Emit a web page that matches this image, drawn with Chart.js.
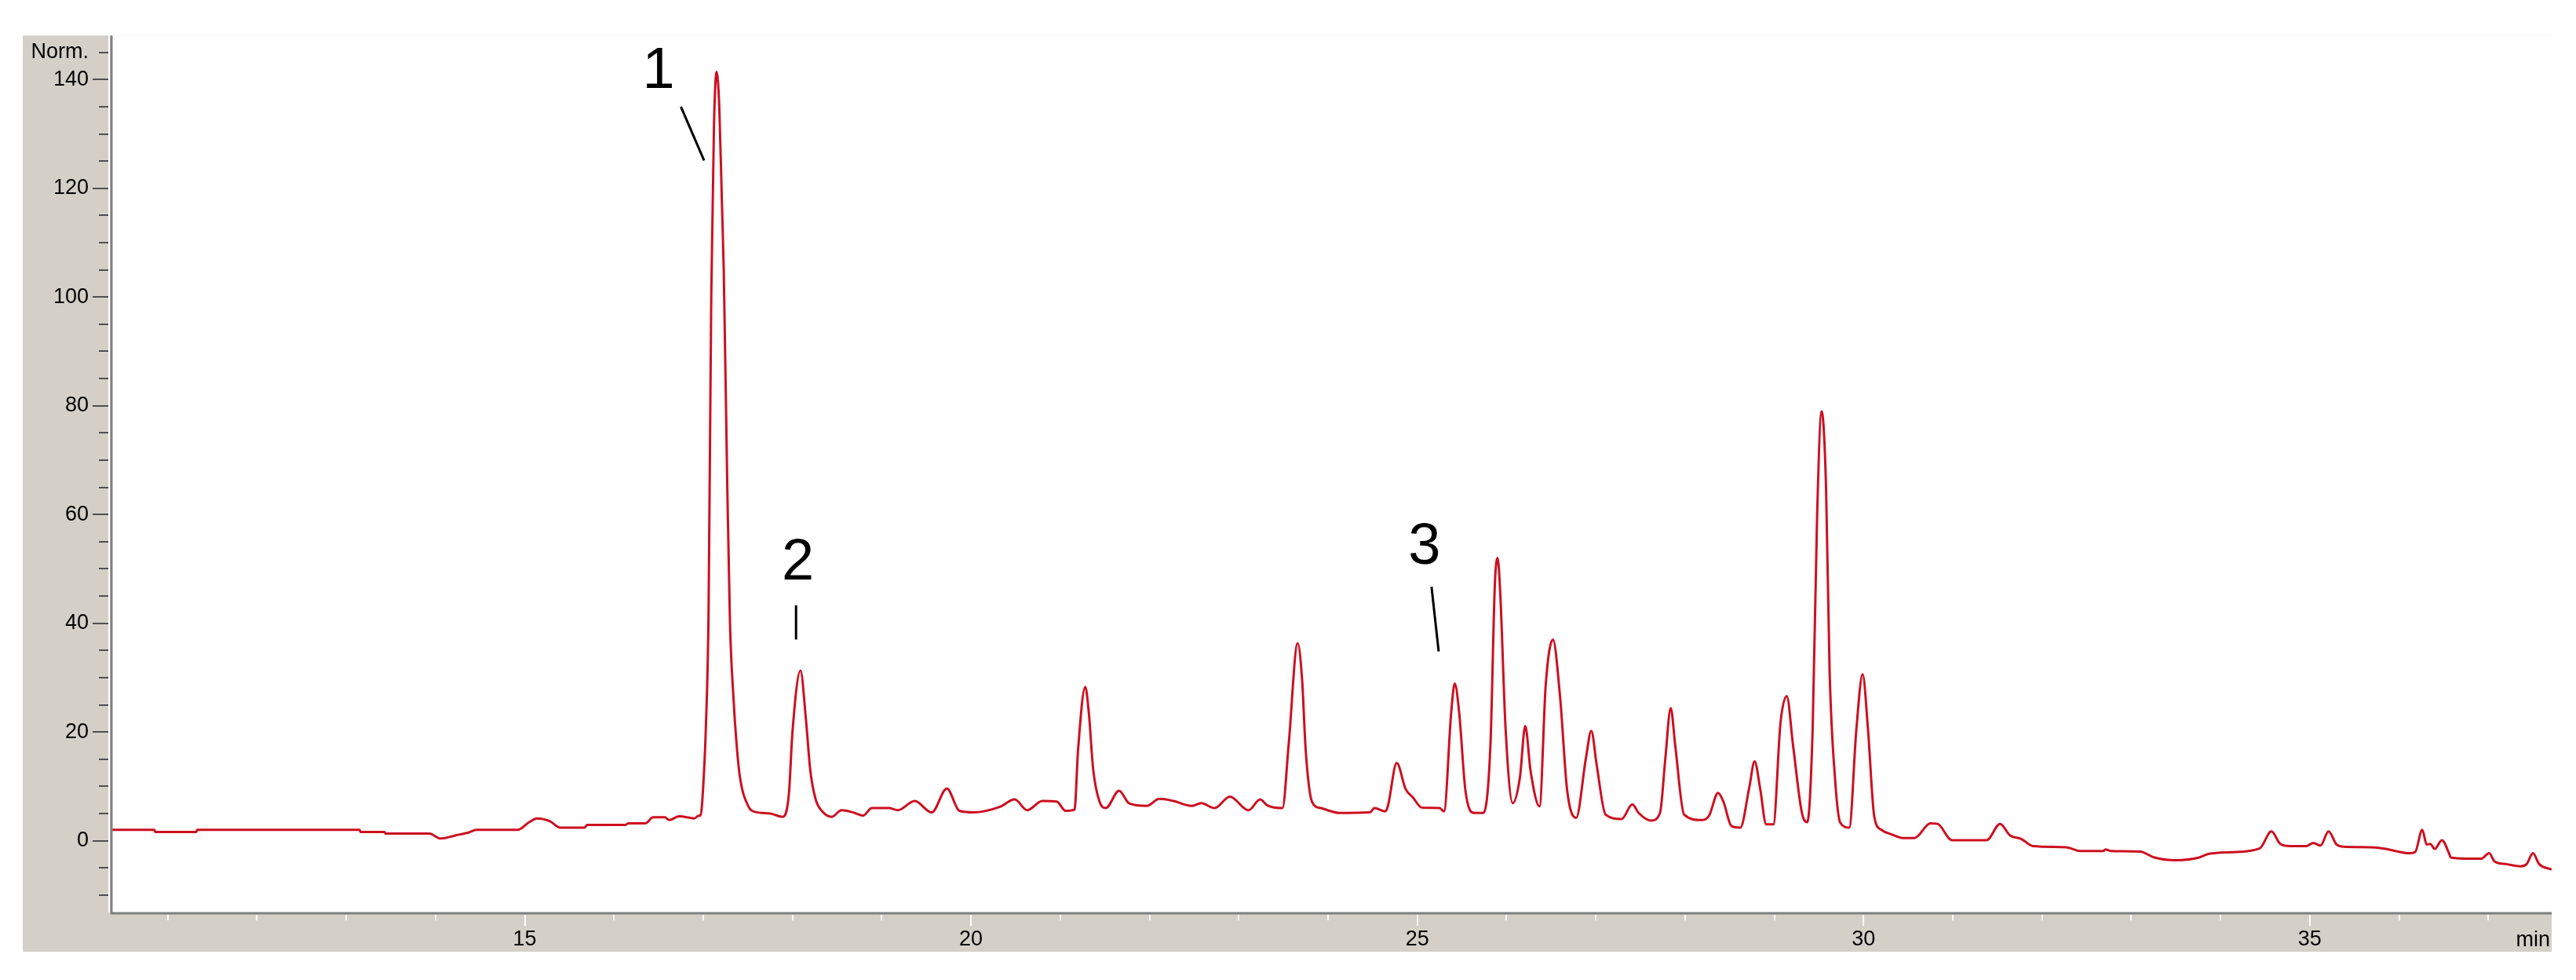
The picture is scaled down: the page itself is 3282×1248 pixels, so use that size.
<!DOCTYPE html>
<html>
<head>
<meta charset="utf-8">
<script src="https://cdn.jsdelivr.net/npm/chart.js@4"></script>
<style>
    html, body { margin: 0; padding: 0; background: #ffffff; }
    #wrap { width: 3282px; height: 1248px; }
</style>
</head>
<body>
<div id="wrap"><canvas id="chromChart" width="3282" height="1248"></canvas></div>
<script>
// retention time (min) and detector signal (Norm.)
var retentionTimes = [
    10.37, 10.85, 10.86, 11.32, 11.33, 13.15, 13.16, 13.43, 13.44, 13.93,
    14.06, 14.23, 14.37, 14.46, 14.92, 15.05, 15.14, 15.28, 15.40, 15.67,
    15.70, 16.13, 16.16, 16.35, 16.44, 16.57, 16.62, 16.73, 16.90, 16.95,
    16.97, 17.00, 17.03, 17.06, 17.09, 17.12, 17.15, 17.18, 17.21, 17.23,
    17.27, 17.30, 17.34, 17.37, 17.41, 17.51, 17.58, 17.75, 17.89, 17.96,
    18.00, 18.09, 18.15, 18.20, 18.26, 18.34, 18.44, 18.55, 18.68, 18.79,
    18.89, 19.08, 19.18, 19.37, 19.56, 19.73, 19.87, 20.03, 20.32, 20.49,
    20.63, 20.80, 20.96, 21.06, 21.16, 21.20, 21.28, 21.32, 21.37, 21.44,
    21.51, 21.66, 21.77, 21.97, 22.11, 22.27, 22.47, 22.58, 22.73, 22.90,
    23.11, 23.24, 23.32, 23.49, 23.56, 23.66, 23.71, 23.75, 23.82, 23.92,
    24.13, 24.47, 24.52, 24.64, 24.67, 24.77, 24.87, 24.95, 25.05, 25.25,
    25.30, 25.38, 25.42, 25.47, 25.54, 25.64, 25.74, 25.82, 25.87, 25.90,
    25.93, 25.99, 26.07, 26.15, 26.21, 26.27, 26.37, 26.44, 26.52, 26.60,
    26.68, 26.78, 26.89, 26.95, 27.01, 27.11, 27.29, 27.41, 27.48, 27.62,
    27.72, 27.78, 27.84, 27.89, 27.99, 28.19, 28.27, 28.37, 28.43, 28.52,
    28.62, 28.72, 28.78, 28.84, 28.91, 28.99, 29.07, 29.14, 29.21, 29.31,
    29.37, 29.43, 29.48, 29.53, 29.58, 29.62, 29.68, 29.74, 29.84, 29.92,
    29.99, 30.05, 30.12, 30.20, 30.31, 30.44, 30.57, 30.75, 30.83, 30.99,
    31.38, 31.53, 31.64, 31.77, 31.90, 32.27, 32.43, 32.69, 32.71, 32.77,
    33.10, 33.26, 33.50, 33.76, 33.87, 34.13, 34.44, 34.57, 34.67, 34.78,
    34.96, 35.04, 35.12, 35.21, 35.30, 35.38, 35.69, 35.85, 35.96, 36.11,
    36.18, 36.26, 36.31, 36.35, 36.40, 36.48, 36.56, 36.58, 36.74, 36.92,
    37.01, 37.07, 37.20, 37.36, 37.43, 37.50, 37.57, 37.71
];
var signal = [
    2.0, 2.0, 1.6, 1.6, 2.0, 2.0, 1.6, 1.6, 1.3, 1.3,
    0.4, 1.0, 1.5, 2.0, 2.0, 3.4, 4.1, 3.6, 2.4, 2.4,
    2.9, 2.9, 3.2, 3.2, 4.3, 4.3, 3.8, 4.5, 4.1, 4.6,
    4.6, 10.0, 21.0, 42.0, 100.0, 131.0, 141.4, 135.0, 117.0, 105.0,
    65.0, 40.0, 26.0, 18.6, 11.9, 6.2, 5.3, 5.0, 4.4, 8.6,
    20.0, 31.3, 22.5, 12.9, 7.6, 5.3, 4.4, 5.6, 5.2, 4.6,
    6.0, 6.0, 5.6, 7.3, 5.2, 9.6, 5.5, 5.2, 6.2, 7.6,
    5.6, 7.3, 7.2, 5.5, 5.7, 16.7, 28.3, 23.6, 13.0, 7.2,
    6.0, 9.2, 6.9, 6.4, 7.7, 7.3, 6.4, 6.9, 6.0, 8.1,
    5.6, 7.6, 6.5, 6.0, 17.8, 36.3, 29.6, 16.7, 7.2, 6.0,
    5.1, 5.2, 6.0, 5.4, 6.3, 14.3, 9.5, 8.0, 6.1, 6.0,
    5.4, 23.5, 28.9, 23.5, 9.2, 5.1, 5.1, 17.6, 47.3, 52.0,
    45.5, 20.5, 6.9, 11.6, 21.1, 12.8, 6.3, 28.8, 37.0, 26.5,
    9.2, 4.2, 15.2, 20.2, 14.0, 4.8, 4.0, 6.7, 5.1, 3.7,
    5.1, 15.2, 24.4, 17.6, 4.8, 3.8, 4.6, 8.8, 7.2, 2.7,
    2.4, 9.8, 14.6, 9.8, 3.0, 3.0, 21.7, 26.6, 17.6, 5.1,
    3.4, 20.5, 59.7, 79.0, 65.1, 31.2, 11.6, 3.3, 2.4, 20.5,
    30.6, 20.5, 4.5, 2.0, 1.2, 0.5, 0.5, 3.2, 3.1, 0.1,
    0.1, 3.1, 1.0, 0.3, -1.0, -1.2, -1.9, -1.9, -1.6, -1.9,
    -2.0, -3.1, -3.6, -3.1, -2.4, -2.1, -1.4, 1.7, -0.6, -1.0,
    -1.0, -0.4, -0.9, 1.7, -0.7, -1.1, -1.2, -1.5, -1.9, -2.3,
    -2.1, 2.0, -0.7, -0.6, -1.5, 0.1, -2.3, -3.1, -3.3, -3.3,
    -2.3, -3.8, -4.3, -4.7, -4.3, -2.3, -4.3, -5.3
];

// axis ticks
var xTickValues = [11, 12, 13, 14, 15, 16, 17, 18, 19, 20, 21, 22, 23, 24, 25, 26, 27, 28, 29, 30, 31, 32, 33, 34, 35, 36, 37];
var xLabelValues = [15, 20, 25, 30, 35];
var yTickValues = [-10, -5, 0, 5, 10, 15, 20, 25, 30, 35, 40, 45, 50, 55, 60, 65, 70, 75, 80, 85, 90, 95, 100, 105, 110, 115, 120, 125, 130, 135, 140, 145];
var yLabelValues = [0, 20, 40, 60, 80, 100, 120, 140];
var yUnitLabel = 'Norm.';
var xUnitLabel = 'min';

// peak numbers: text, label position, leader line (all in time / signal units)
var peakNames = ['1', '2', '3'];
var peakLabelAt = [[16.50, 138.5], [18.06, 48.0], [25.08, 50.9]];
var peakLeaderFrom = [[16.75, 135.0], [18.04, 43.3], [25.16, 46.7]];
var peakLeaderTo = [[17.01, 125.1], [18.04, 37.0], [25.24, 34.8]];

var FONT = '"Liberation Sans", Arial, sans-serif';
var PANEL = '#d4d0c8';

var points = retentionTimes.map(function (t, i) {
    return { x: t, y: signal[i] };
});

var panelPlugin = {
    id: 'panel',
    beforeDraw: function (chart) {
        var ctx = chart.ctx;
        var a = chart.chartArea;
        ctx.save();
        ctx.fillStyle = '#ffffff';
        ctx.fillRect(0, 0, chart.width, chart.height);
        ctx.fillStyle = PANEL;
        ctx.fillRect(29, a.top, a.right - 29, 1212 - a.top);
        ctx.fillStyle = '#ffffff';
        ctx.fillRect(a.left, a.top, a.right - a.left, a.bottom - a.top);
        ctx.restore();
    },
    afterDraw: function (chart) {
        var ctx = chart.ctx;
        var a = chart.chartArea;
        var xs = chart.scales.x;
        var ys = chart.scales.y;
        ctx.save();

        // axis lines
        ctx.lineWidth = 2;
        ctx.strokeStyle = '#ffffff';
        ctx.beginPath();
        ctx.moveTo(a.left - 3, a.top);
        ctx.lineTo(a.left - 3, a.bottom);
        ctx.stroke();
        ctx.strokeStyle = '#808080';
        ctx.lineWidth = 3;
        ctx.beginPath();
        ctx.moveTo(a.left, a.top);
        ctx.lineTo(a.left, a.bottom + 1);
        ctx.lineTo(a.right, a.bottom + 1);
        ctx.stroke();

        // y ticks
        ctx.strokeStyle = '#505050';
        ctx.lineWidth = 2;
        yTickValues.forEach(function (v) {
            var py = Math.round(ys.getPixelForValue(v));
            var len = yLabelValues.indexOf(v) >= 0 ? 20 : 12;
            ctx.beginPath();
            ctx.moveTo(a.left - 4 - len, py);
            ctx.lineTo(a.left - 4, py);
            ctx.stroke();
        });

        // x ticks
        ctx.strokeStyle = '#ffffff';
        xTickValues.forEach(function (v) {
            var px = Math.round(xs.getPixelForValue(v));
            var len = xLabelValues.indexOf(v) >= 0 ? 14 : 7;
            ctx.beginPath();
            ctx.moveTo(px, a.bottom + 3);
            ctx.lineTo(px, a.bottom + 3 + len);
            ctx.stroke();
        });

        // unit label on the time axis
        ctx.fillStyle = '#000000';
        ctx.font = '27px ' + FONT;
        ctx.textAlign = 'right';
        ctx.textBaseline = 'alphabetic';
        ctx.fillText(xUnitLabel, a.right - 2, 1205);

        // peak numbers
        ctx.font = '74px ' + FONT;
        ctx.textAlign = 'center';
        ctx.strokeStyle = '#000000';
        ctx.lineWidth = 3;
        peakNames.forEach(function (name, i) {
            ctx.fillText(name, xs.getPixelForValue(peakLabelAt[i][0]), ys.getPixelForValue(peakLabelAt[i][1]));
            ctx.beginPath();
            ctx.moveTo(xs.getPixelForValue(peakLeaderFrom[i][0]), ys.getPixelForValue(peakLeaderFrom[i][1]));
            ctx.lineTo(xs.getPixelForValue(peakLeaderTo[i][0]), ys.getPixelForValue(peakLeaderTo[i][1]));
            ctx.stroke();
        });
        ctx.restore();
    }
};

var ctx = document.getElementById('chromChart').getContext('2d');
var chromChart = new Chart(ctx, {
    type: 'line',
    data: {
        datasets: [{
            label: 'Signal',
            data: points,
            borderColor: '#cc1020',
            borderWidth: 3,
            pointRadius: 0,
            cubicInterpolationMode: 'monotone',
            fill: false
        }]
    },
    options: {
        responsive: false,
        animation: false,
        parsing: false,
        layout: {
            padding: { left: 29, right: 31, top: 36, bottom: 36 }
        },
        plugins: {
            legend: { display: false },
            tooltip: { enabled: false }
        },
        scales: {
            x: {
                type: 'linear',
                min: 10.37,
                max: 37.71,
                afterBuildTicks: function (scale) {
                    scale.ticks = xTickValues.map(function (v) { return { value: v }; });
                },
                afterFit: function (scale) {
                    scale.height = 50;
                },
                grid: { display: false, drawTicks: false },
                border: { display: false },
                ticks: {
                    autoSkip: false,
                    maxRotation: 0,
                    padding: 18,
                    color: '#000000',
                    font: { family: FONT, size: 27 },
                    callback: function (value) {
                        return xLabelValues.indexOf(value) >= 0 ? String(value) : '';
                    }
                }
            },
            y: {
                type: 'linear',
                min: -13.2,
                max: 148.1,
                afterBuildTicks: function (scale) {
                    scale.ticks = yTickValues.map(function (v) { return { value: v }; });
                },
                afterFit: function (scale) {
                    scale.width = 113;
                },
                grid: { display: false, drawTicks: false },
                border: { display: false },
                ticks: {
                    autoSkip: false,
                    padding: 29,
                    color: '#000000',
                    font: { family: FONT, size: 27 },
                    callback: function (value) {
                        if (value === 145) return yUnitLabel;
                        return yLabelValues.indexOf(value) >= 0 ? String(value) : '';
                    }
                }
            }
        }
    },
    plugins: [panelPlugin]
});
</script>
</body>
</html>
